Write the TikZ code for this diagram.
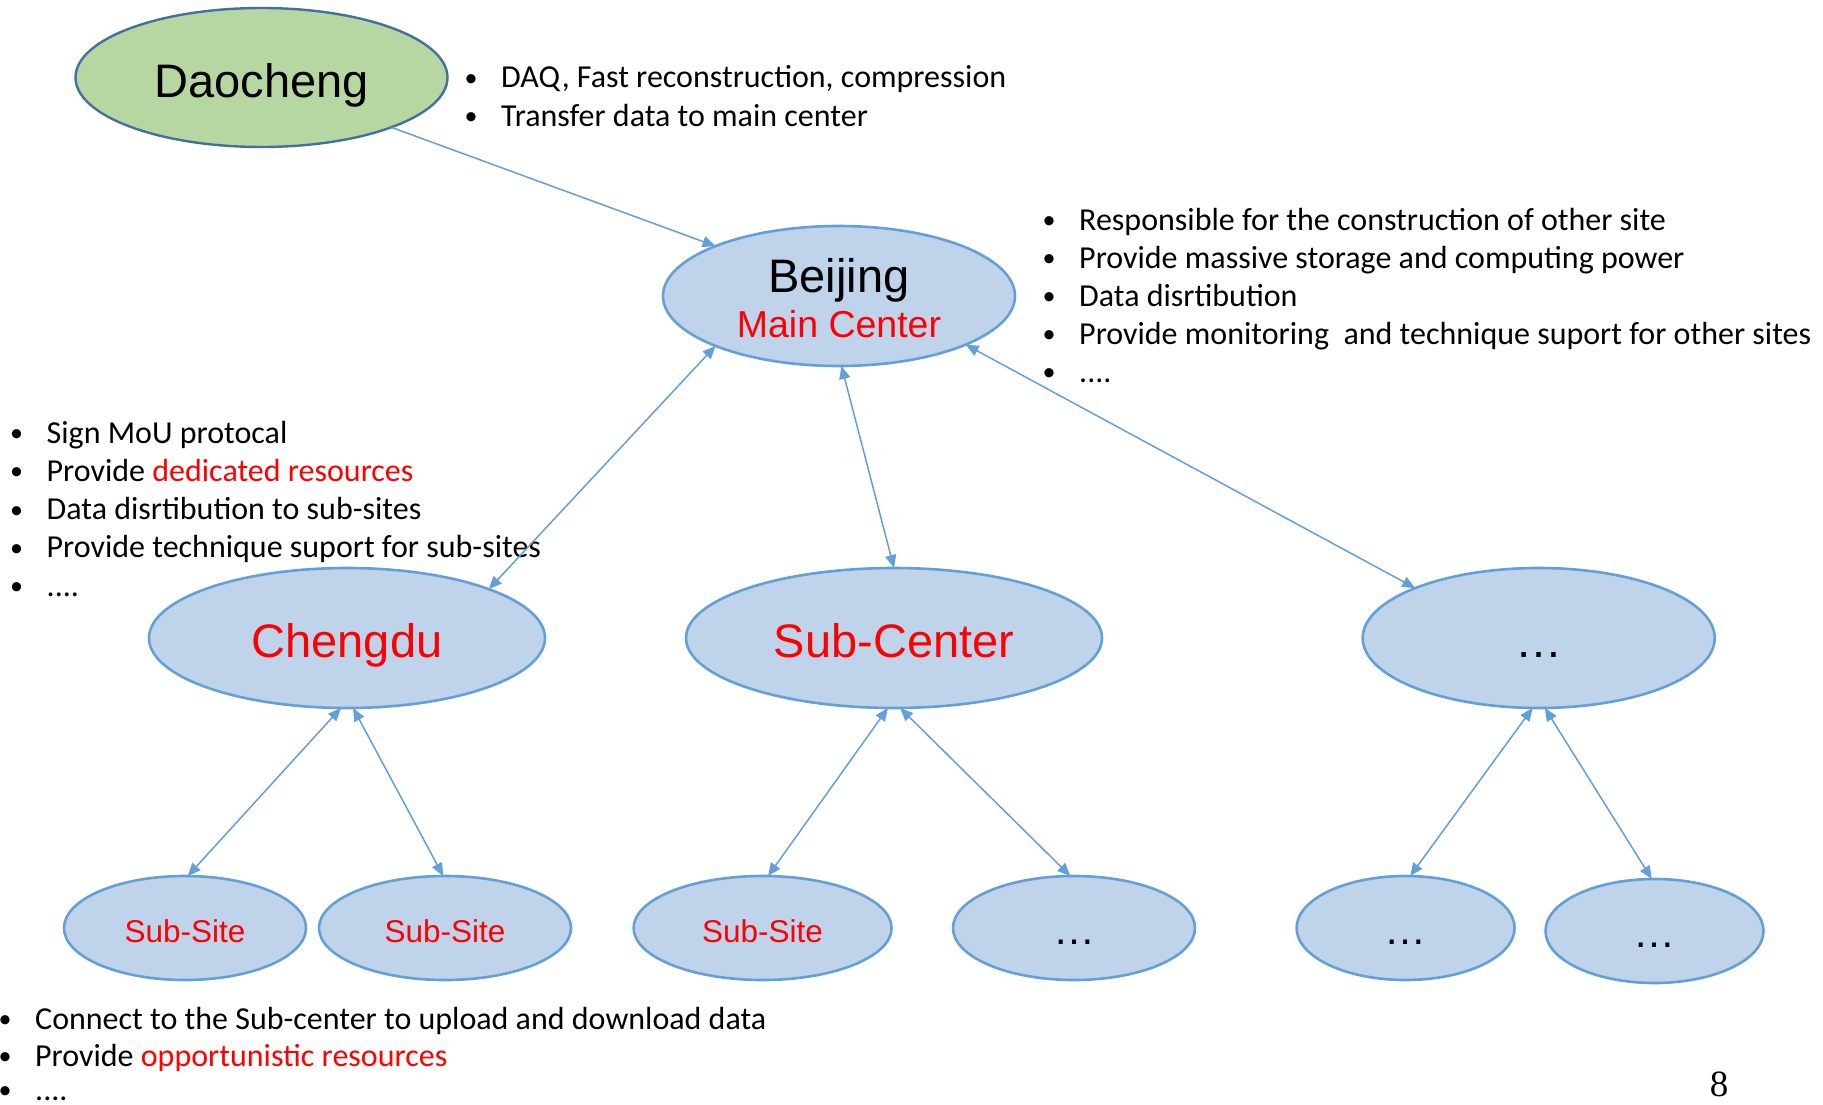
\documentclass[tikz,border=0pt]{standalone}
\usepackage{fontspec}
\setmainfont{Carlito}
\newfontfamily\arialfont{Liberation Sans}
\newfontfamily\timesfont{Liberation Serif}
\usetikzlibrary{shapes.geometric,arrows.meta}

\definecolor{siteblue}{RGB}{191,211,235}
\definecolor{siteedge}{RGB}{98,160,215}
\definecolor{daofill}{RGB}{183,215,162}
\definecolor{daoedge}{RGB}{65,113,156}
\definecolor{linkblue}{RGB}{98,160,215}
\definecolor{hot}{RGB}{255,0,0}

% bullet placed 30pt left of the item text
\newcommand\bulletmark{\llap{\makebox[14pt][c]{\raisebox{1.5pt}{\fontsize{26}{26}\selectfont •}}\hspace{23pt}}}

\begin{document}
\begin{tikzpicture}[x=1pt,y=-1pt,
  site/.style={ellipse, draw=siteedge, fill=siteblue, line width=2.6pt,
    inner sep=0pt, outer sep=0pt},
  bigsite/.style={site, font=\arialfont\fontsize{47}{56}\selectfont,
    text height=38pt, text depth=0pt},
  smallsite/.style={site, font=\arialfont\fontsize{31.5}{38}\selectfont,
    text height=28pt, text depth=0pt},
  bul/.style={anchor=base west, inner sep=0pt, font=\fontsize{32}{38}\selectfont},
  link/.style={draw=linkblue, line width=1.5pt},
  tip/.style={-{Triangle[length=13pt,width=11pt]}},
  twotip/.style={{Triangle[length=13pt,width=11pt]}-{Triangle[length=13pt,width=11pt]}},
]
\fill[white] (0,0) rectangle (1823,1105);
\useasboundingbox (0,0) rectangle (1823,1105);

% ---- sites ----
\node[ellipse, draw=daoedge, fill=daofill, line width=2.4pt, inner sep=0pt, outer sep=0pt,
      minimum width=372pt, minimum height=139pt,
      font=\arialfont\fontsize{47}{56}\selectfont, text height=40pt, text depth=0pt]
      (dao) at (261.5,77.5) {Daocheng};

\node[site, minimum width=352pt, minimum height=140pt, font=\arialfont]
      (bj) at (839,296)
      {\begin{tabular}{@{}c@{}}\rule{0pt}{42pt}\fontsize{47}{47}\selectfont Beijing\\[14.8pt]
       \fontsize{37.5}{37.5}\selectfont\color{hot}Main Center\end{tabular}};

\node[bigsite, minimum width=396pt, minimum height=140pt, text=hot] (cd) at (347,638) {Chengdu};
\node[bigsite, minimum width=416pt, minimum height=140pt, text=hot] (sc) at (894,638) {Sub-Center};
\node[bigsite, minimum width=352pt, minimum height=140pt] (more) at (1538.7,638) {…};

\node[smallsite, minimum width=242pt, minimum height=104pt, text=hot] (ss1) at (185,928) {Sub-Site};
\node[smallsite, minimum width=252pt, minimum height=104pt, text=hot] (ss2) at (445,928) {Sub-Site};
\node[smallsite, minimum width=258pt, minimum height=104pt, text=hot] (ss3) at (762.6,928) {Sub-Site};
\node[smallsite, minimum width=242pt, minimum height=104pt, font=\arialfont\fontsize{42}{48}\selectfont, text height=33pt] (m4) at (1074,928) {…};
\node[smallsite, minimum width=218pt, minimum height=104pt, font=\arialfont\fontsize{42}{48}\selectfont, text height=33pt] (m5) at (1405.6,928) {…};
\node[smallsite, minimum width=218pt, minimum height=104pt, font=\arialfont\fontsize{42}{48}\selectfont, text height=33pt] (m6) at (1654.5,931) {…};

% ---- notes: Daocheng ----
\node[bul] (dn1) at (501,88)    {\bulletmark DAQ, Fast reconstruction, compression};
\node[bul] (dn2) at (501,126.5) {\bulletmark Transfer data to main center};

% ---- notes: Beijing ----
\node[bul] (bn1) at (1079,230)   {\bulletmark Responsible for the construction of other site};
\node[bul] (bn2) at (1079,268.1) {\bulletmark Provide massive storage and computing power};
\node[bul] (bn3) at (1079,306.2) {\bulletmark Data disrtibution};
\node[bul] (bn4) at (1079,344.3) {\bulletmark Provide monitoring\ \ and technique suport for other sites};
\node[bul] (bn5) at (1079,382.4) {\bulletmark ....};

% ---- notes: Chengdu ----
\node[bul] (cn1) at (46.5,443)   {\bulletmark Sign MoU protocal};
\node[bul] (cn2) at (46.5,481.3) {\bulletmark Provide {\color{hot}dedicated resources}};
\node[bul] (cn3) at (46.5,519.6) {\bulletmark Data disrtibution to sub-sites};
\node[bul] (cn4) at (46.5,557.9) {\bulletmark Provide technique suport for sub-sites};
\node[bul] (cn5) at (46.5,596.2) {\bulletmark ....};

% ---- notes: sub-sites ----
\node[bul] (sn1) at (35,1029) {\bulletmark Connect to the Sub-center to upload and download data};
\node[bul] (sn2) at (35,1066) {\bulletmark Provide {\color{hot}opportunistic resources}};
\node[bul] (sn3) at (35,1100) {\bulletmark ....};

% ---- page number ----
\node[anchor=base, inner sep=0pt, font=\timesfont\fontsize{37}{44}\selectfont] (pg) at (1719,1096.7) {8};

% ---- links ----
\draw[link, tip]    (dao.339.5) -- (bj.158.1);
\draw[link, twotip] (bj.202.5) -- (cd.19.7);
\draw[link, twotip] (bj.-88)   -- (sc.north);
\draw[link, twotip] (bj.-21.5) -- (more.158);

\draw[link, twotip] (cd.265)   -- (ss1.87);
\draw[link, twotip] (cd.275)   -- (ss2.92);
\draw[link, twotip] (sc.265)   -- (ss3.84);
\draw[link, twotip] (sc.275)   -- (m4.94);
\draw[link, twotip] (more.265) -- (m5.85.5);
\draw[link, twotip] (more.275) -- (m6.93);
\end{tikzpicture}
\end{document}
